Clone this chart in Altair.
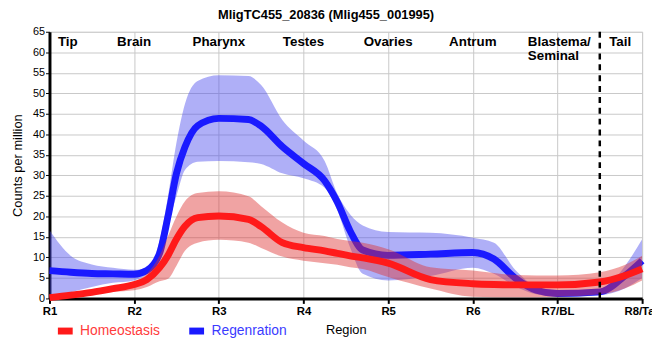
import altair as alt
import pandas as pd

# ---------------- data ----------------
series_names = ["Homeostasis", "Regenration"]
line_colors = ["#ff1a1a", "#1a1aff"]
band_colors = ["#dd3333", "#4d4dee"]

tick_labels = ["R1", "R2", "R3", "R4", "R5", "R6", "R7/BL", "R8/Tail"]

positions = [1, 1.25, 1.5, 1.75, 2, 2.15, 2.3, 2.4, 2.5, 2.6, 2.75, 3, 3.35, 3.5, 3.75,
             4, 4.25, 4.4, 4.55, 4.7, 5, 5.5, 6, 6.25, 6.5, 6.75, 7, 7.5, 7.8, 8]

blue_mean = [6.8, 6.4, 6.1, 6.0, 5.9, 6.8, 11.0, 20, 30.5, 36.9, 42.1, 43.9, 43.6, 42, 37,
             32.9, 28.7, 23.5, 16.5, 11.8, 10.5, 10.8, 11.2, 9.6, 5, 2, 1.2, 1.6, 5.6, 9.2]
blue_hi = [16.6, 10.4, 8.3, 7.5, 7.0, 7.5, 14, 25, 38, 47.4, 53, 54.4, 54.2, 52, 43.5,
           38.5, 33.5, 25.5, 20.5, 17.8, 16.2, 16.0, 14.8, 13.6, 7, 2.8, 1.6, 1.9, 8, 14.4]
blue_lo = [0.2, 1.5, 2.8, 3.8, 4.4, 6.0, 11, 18, 25, 31.3, 33.3, 33.5, 33.2, 32.8, 30.5,
           29.3, 27, 21.5, 12.5, 6, 4.4, 5.5, 7.5, 6, 3, 1, 0.4, 0.8, 2.5, 5]

red_mean = [0.2, 0.8, 1.5, 2.4, 3.4, 4.6, 7.5, 10.5, 14.5, 17.6, 19.7, 20.1, 19.3, 17.5, 13.6,
            12.4, 11.6, 11.0, 10.4, 9.9, 8.6, 4.6, 3.6, 3.4, 3.3, 3.3, 3.3, 4, 5.6, 7.2]
red_hi = [0.6, 1.3, 2.1, 3.0, 4.1, 6.0, 10.4, 15.2, 20, 23.7, 25.7, 26.1, 24.9, 22.5, 18.5,
          16, 15.2, 14.5, 14, 13.6, 12, 7.6, 6.8, 6.2, 5.7, 5.6, 5.6, 6.4, 8.2, 10.4]
red_lo = [0, 0.3, 1, 1.6, 2, 2.8, 4.2, 4.8, 8, 11.6, 13.6, 14.3, 13.6, 12.3, 10.2,
          9.2, 8.6, 8.2, 7.6, 7.2, 5.2, 2.4, 0.4, 0.3, 0.3, 0.3, 0.4, 1, 2.5, 4.4]

divider = [7.5]

center_labels = ["Brain", "Pharynx", "Testes", "Ovaries", "Antrum", "Tail"]
center_pos = [2, 3, 4, 5, 6, 7.74]
left_labels = ["Tip", "Blastema/\nSeminal"]
left_pos = [1.1, 6.65]
header_y = 61.5

# ---------------- tables ----------------
rows = []
for name, m, lo, hi in [(series_names[0], red_mean, red_lo, red_hi),
                        (series_names[1], blue_mean, blue_lo, blue_hi)]:
    for p, a, b, c in zip(positions, m, lo, hi):
        rows.append({"series": name, "pos": p, "mean": a, "lo": b, "hi": c})
df = pd.DataFrame(rows)

FONT = "Liberation Sans"

label_expr = "[" + ",".join("'" + t + "'" for t in tick_labels) + "][datum.value - 1]"

x_scale = alt.Scale(domain=[1, 8], nice=False, zero=False)
x_axis = alt.Axis(values=list(range(1, 9)), labelExpr=label_expr, title="Region",
                  labelFontWeight="bold", labelFontSize=11.5, labelFont=FONT,
                  labelColor="black", titleFont=FONT, titleFontSize=13,
                  titleFontWeight="normal", titlePadding=7, tickSize=5,
                  tickWidth=2, labelPadding=2, grid=True, gridColor="#c8c8c8",
                  domainWidth=3, domainColor="black", tickColor="black",
                  labelFlush=False, labelOverlap=False)
y_axis = alt.Axis(values=list(range(0, 70, 5)), title="Counts per million",
                  labelFont=FONT, labelFontSize=11, labelColor="black",
                  titleFont=FONT, titleFontSize=13, titleFontWeight="normal",
                  titlePadding=8, tickSize=4, labelPadding=1, grid=True,
                  gridColor="#c8c8c8", domainWidth=3, domainColor="black",
                  tickColor="black", labelOverlap=False)
y_scale = alt.Scale(domain=[0, 65], nice=False)

def X(field):
    return alt.X(field, scale=x_scale, axis=x_axis)

def Y(field):
    return alt.Y(field, scale=y_scale, axis=y_axis)

color_enc = alt.Color("series:N",
                      scale=alt.Scale(domain=series_names, range=line_colors),
                      legend=alt.Legend(orient="none", legendX=5, legendY=292,
                                        direction="horizontal", title=None,
                                        symbolType="stroke", symbolStrokeWidth=7,
                                        symbolSize=225, labelFontSize=14, labelFont=FONT,
                                        labelColor={"expr": "datum.value == 'Homeostasis' ? '#ff3b3b' : '#3b3bff'"},
                                        columnPadding=15, labelOffset=4))

base = alt.Chart(df)

def band(name, col):
    return base.transform_filter(alt.datum.series == name).mark_area(
        interpolate="monotone", color=col, opacity=0.45, clip=True
    ).encode(x=X("pos:Q"), y=Y("lo:Q"), y2="hi:Q")

def line(name):
    return base.transform_filter(alt.datum.series == name).mark_line(
        interpolate="monotone", strokeWidth=7, clip=False
    ).encode(x=X("pos:Q"), y=Y("mean:Q"), color=color_enc)

rule = alt.Chart(pd.DataFrame({"pos": divider})).mark_rule(
    color="black", strokeDash=[6, 5], strokeWidth=2.5
).encode(x=X("pos:Q"))

center_text = alt.Chart(pd.DataFrame({"label": center_labels, "pos": center_pos,
                                      "y": [header_y] * len(center_labels)})).mark_text(
    font=FONT, fontSize=13.5, fontWeight="bold", align="center", baseline="alphabetic",
    color="black"
).encode(x=X("pos:Q"), y=Y("y:Q"), text="label:N")

left_text = alt.Chart(pd.DataFrame({"label": left_labels, "pos": left_pos,
                                    "y": [header_y] * len(left_labels)})).mark_text(
    font=FONT, fontSize=13.5, fontWeight="bold", align="left", baseline="alphabetic",
    color="black", lineBreak="\n", lineHeight=14
).encode(x=X("pos:Q"), y=Y("y:Q"), text="label:N")

chart = alt.layer(
    band("Regenration", band_colors[1]),
    line("Regenration"),
    band("Homeostasis", band_colors[0]),
    line("Homeostasis"),
    rule, center_text, left_text
).properties(
    width=600, height=270,
    title=alt.TitleParams(text="MligTC455_20836 (Mlig455_001995)", font=FONT, fontSize=13,
                          fontWeight="bold", anchor="middle", dx=-20, offset=4,
                          color="black"),
    autosize=alt.AutoSizeParams(type="none"),
    padding={"left": 42, "top": 22, "right": 10, "bottom": 40}
).configure_view(stroke="black", strokeWidth=1.5).configure(background="white")

chart.save("out.html", embed_options={"renderer": "svg", "actions": False})
